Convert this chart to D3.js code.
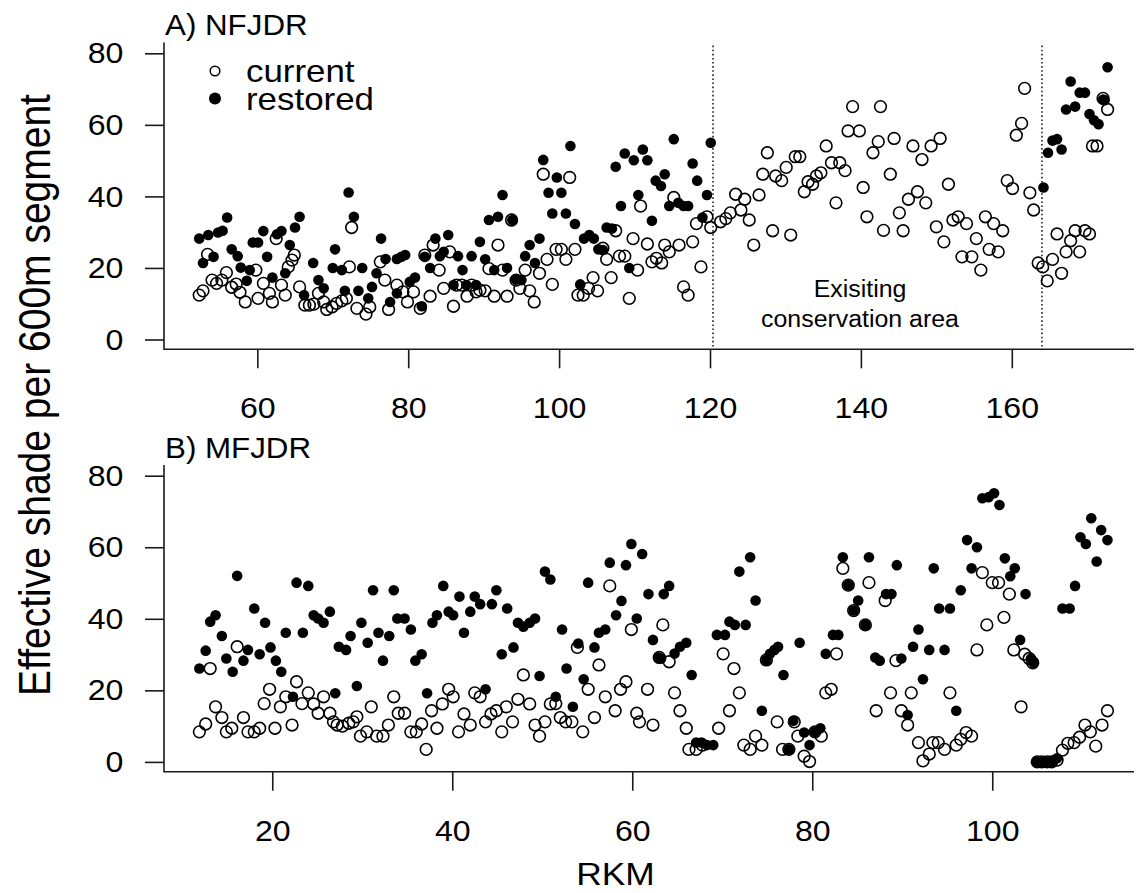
<!DOCTYPE html>
<html>
<head>
<meta charset="utf-8">
<script src="https://cdn.jsdelivr.net/npm/d3@7"></script>
<style>
  html, body { margin: 0; padding: 0; background: #fff; }
  svg { display: block; }
  text { font-family: "Liberation Sans", Arial, Helvetica, sans-serif; fill: #000; }
</style>
</head>
<body>
<svg id="chart" width="1136" height="893"></svg>
<script>
// ---------------- DATA ----------------
const panelTitles = ["A) NFJDR", "B) MFJDR"];
const legendLabels = ["current", "restored"];
const yTicks = [0, 20, 40, 60, 80];
const nfXTicks = [60, 80, 100, 120, 140, 160];
const mfXTicks = [20, 40, 60, 80, 100];
const conservationBounds = [120.4, 164.0];
const conservationLabel = ["Exisiting", "conservation area"];
const xTitle = "RKM";
const yTitle = "Effective shade per 600m segment";

// NFJDR current [RKM, shade]
const nfCurrent = [
[52.3,12.4],[52.8,13.6],[53.4,23.8],[54.0,16.6],[54.6,15.7],[55.3,16.6],[55.9,18.7],[56.6,14.6],[57.2,15.5],[57.7,13.2],
[58.4,10.5],[59.8,19.4],[60.1,11.5],[60.8,15.7],[61.6,12.9],[62.0,10.5],[62.5,28.2],[63.2,15.2],[63.7,12.4],[64.1,20.3],
[64.6,22.2],[64.9,23.6],[65.6,14.7],[66.3,9.6],[66.9,9.6],[67.5,9.9],[68.1,12.9],[68.8,10.5],[69.2,8.4],[69.9,9.1],
[70.5,10.1],[71.2,10.8],[71.8,11.5],[72.2,20.3],[72.5,31.3],[73.2,8.7],[74.4,7.1],[74.9,9.1],[76.3,21.7],[76.9,16.6],
[77.4,8.4],[78.5,15.2],[79.3,13.3],[79.9,10.5],[80.7,13.3],[81.6,8.7],[82.2,23.6],[82.9,12.1],[83.3,26.4],[84.1,19.4],
[84.7,14.3],[85.5,24.5],[86.0,9.3],[86.4,15.2],[87.1,15.2],[87.8,12.1],[88.4,15.2],[89.0,13.3],[89.5,13.8],[90.2,13.6],
[90.7,19.8],[91.4,12.1],[91.9,26.4],[92.5,19.4],[93.1,12.1],[93.7,33.4],[94.3,16.6],[94.8,14.3],[95.5,19.4],[96.1,13.6],
[96.7,10.5],[97.4,18.5],[97.9,46.2],[98.4,22.4],[99.1,15.4],[99.6,25.2],[100.3,25.2],[100.9,22.4],[101.4,45.3],[102.1,25.2],
[102.5,12.4],[103.2,12.4],[103.9,14.3],[104.5,17.3],[105.1,13.6],[105.8,25.5],[106.3,22.4],[106.9,17.3],[107.5,30.4],[108.0,23.3],
[108.7,23.3],[109.3,11.5],[109.8,28.2],[110.4,19.4],[110.8,37.3],[111.7,26.7],[112.3,21.7],[112.9,22.7],[113.6,21.4],[114.0,26.4],
[114.6,24.5],[115.2,39.7],[115.9,26.4],[116.5,14.7],[117.1,12.4],[117.7,27.3],[118.2,32.4],[118.8,20.3],[119.6,34.3],[120.1,31.3],
[121.4,32.9],[122.1,33.8],[122.7,35.4],[123.4,40.6],[124.1,36.2],[124.6,39.2],[125.2,33.4],[125.8,26.4],[126.5,40.4],[127.0,46.2],
[127.6,52.2],[128.3,30.4],[128.7,45.7],[129.5,44.4],[130.1,48.1],[130.7,29.2],[131.3,51.1],[131.9,51.1],[132.5,41.3],[133.0,44.1],
[133.6,43.4],[134.1,45.7],[134.7,46.6],[135.4,54.1],[136.1,49.4],[136.7,38.2],[137.2,49.4],[137.9,47.2],[138.3,58.3],[138.9,65.1],
[139.8,58.3],[140.3,42.5],[140.8,34.3],[141.6,52.2],[142.3,55.3],[142.6,65.1],[143.0,30.5],[143.9,46.2],[144.4,56.2],[145.1,35.4],
[145.6,30.4],[146.3,39.2],[146.9,54.1],[147.5,41.3],[148.1,50.3],[148.6,38.2],[149.3,54.1],[150.0,31.5],[150.5,56.2],[151.0,27.3],
[151.6,43.4],[152.2,33.4],[152.9,34.3],[153.4,23.1],[154.0,32.4],[154.7,23.1],[155.3,28.2],[155.9,19.4],[156.5,34.3],[157.0,25.2],
[157.6,32.4],[158.2,24.5],[158.8,30.4],[159.4,44.4],[160.1,42.2],[160.6,57.1],[161.3,60.4],[161.7,70.2],[162.4,41.0],[162.9,36.2],
[163.5,21.4],[164.1,20.3],[164.7,16.4],[165.4,22.4],[166.0,29.5],[166.6,18.5],[167.2,24.5],[167.8,27.6],[168.4,30.4],[169.0,24.5],
[169.7,30.4],[170.3,29.5],[170.7,54.1],[171.3,54.1],[172.1,67.4],[172.7,64.3]
];

// NFJDR restored [RKM, shade]
const nfRestored = [
[52.3,28.2],[52.8,21.4],[53.5,29.2],[54.2,23.1],[54.8,29.9],[55.4,30.4],[56.0,34.1],[56.6,25.2],[57.4,23.3],[57.8,20.1],
[58.6,16.4],[59.0,19.4],[59.4,27.1],[60.1,27.1],[60.8,30.3],[61.3,23.1],[62.0,17.3],[62.6,29.4],[63.2,30.3],[63.7,18.5],
[64.3,26.4],[65.0,31.3],[65.6,34.3],[66.2,12.4],[67.4,21.4],[68.1,16.6],[68.8,14.3],[70.0,20.0],[70.3,25.2],[71.2,19.4],
[71.6,13.6],[72.1,41.1],[72.8,34.3],[73.4,13.6],[73.9,20.0],[74.7,11.5],[75.2,14.7],[75.8,18.5],[76.4,28.2],[77.0,22.5],
[77.6,10.5],[78.5,22.5],[78.5,12.9],[79.1,23.1],[79.6,23.6],[80.2,16.1],[80.9,17.3],[81.8,9.3],[82.2,23.1],[82.9,20.0],
[83.6,28.2],[84.2,23.3],[84.7,24.5],[85.3,29.2],[86.0,15.2],[86.6,23.3],[87.2,19.4],[87.7,15.2],[88.4,23.3],[89.0,15.2],
[89.5,27.3],[90.2,22.4],[90.7,33.4],[91.4,19.4],[91.9,34.3],[92.5,40.4],[93.1,20.0],[93.8,33.4],[94.3,16.8],[95.0,16.6],
[95.5,23.3],[96.1,26.4],[96.8,21.4],[97.4,28.2],[97.9,50.2],[98.6,41.0],[99.1,35.2],[99.7,45.3],[100.3,41.0],[100.9,35.2],
[101.5,54.1],[102.1,32.3],[102.8,15.4],[103.3,28.2],[104.0,29.2],[104.6,28.2],[105.2,25.2],[105.8,25.0],[106.3,31.3],[107.0,31.0],
[107.5,48.3],[108.2,37.3],[108.7,52.0],[109.3,20.0],[109.9,50.1],[110.5,40.4],[111.1,53.1],[111.7,50.1],[112.3,33.2],[112.8,44.4],
[113.5,42.9],[114.0,46.2],[114.6,37.3],[115.2,56.0],[115.8,38.2],[116.5,37.3],[117.1,37.3],[117.7,49.2],[118.3,44.4],[119.0,34.1],
[119.6,40.4],[120.1,55.0],
[164.2,42.5],[164.8,52.2],[165.4,55.6],[166.0,56.0],[166.6,53.1],[167.2,64.3],[167.8,72.1],[168.4,65.1],[169.0,69.0],[169.7,69.0],
[170.3,63.0],[170.9,61.3],[171.5,60.2],[172.1,67.1],[172.3,66.9],[172.7,76.1]
];

// MFJDR current [RKM, shade]
const mfCurrent = [
[11.9,8.4],[12.6,10.6],[13.1,26.1],[13.7,15.4],[14.4,12.4],[14.9,8.4],[15.5,9.4],[16.1,32.2],[16.8,12.4],[17.3,8.4],
[18.0,8.4],[18.6,9.4],[19.1,16.3],[19.7,20.3],[20.3,9.4],[20.9,15.4],[21.5,18.2],[22.2,10.3],[22.7,22.4],[23.3,16.3],
[24.0,19.3],[24.6,16.2],[25.1,13.6],[25.7,18.2],[26.4,13.6],[26.8,11.2],[27.2,10.3],[27.8,10.0],[28.5,10.8],[29.0,11.2],
[29.4,12.6],[29.8,7.2],[30.5,8.4],[31.0,15.4],[31.6,7.2],[32.3,7.2],[32.9,10.3],[33.5,18.2],[34.0,13.6],[34.7,13.6],
[35.4,8.4],[36.0,8.4],[36.6,10.6],[37.1,3.5],[37.7,14.3],[38.3,9.4],[38.9,16.2],[39.6,20.3],[40.1,18.2],[40.7,8.4],
[41.3,13.4],[42.0,10.3],[42.5,19.3],[43.1,18.2],[43.7,11.2],[44.3,13.4],[44.9,14.3],[45.5,8.4],[46.0,15.4],[46.7,11.2],
[47.3,17.5],[47.9,24.3],[48.6,16.2],[49.2,10.3],[49.7,7.2],[50.3,11.2],[50.9,16.2],[51.5,16.3],[52.0,12.4],[52.6,11.2],
[53.3,11.2],[53.9,32.0],[54.5,8.4],[55.1,20.3],[55.8,12.4],[56.3,27.1],[57.0,18.2],[57.5,49.2],[58.1,14.3],[58.7,20.3],
[59.3,22.4],[59.9,37.0],[60.5,13.6],[60.8,11.2],[61.7,20.3],[62.3,10.3],[63.0,29.2],[63.4,38.3],[64.1,28.0],[64.7,19.3],
[65.3,14.3],[66.0,9.4],[66.3,3.5],[67.1,3.5],[67.8,4.7],[69.6,9.4],[70.1,30.2],[70.8,14.3],[71.3,26.1],[71.9,19.3],
[72.4,4.7],[73.1,3.5],[73.7,7.2],[74.4,4.7],[74.9,28.5],[76.1,11.2],[76.7,3.5],[77.4,3.5],[78.0,11.2],[78.4,7.2],
[79.1,1.6],[79.7,0.1],[80.3,8.4],[81.0,7.2],[81.5,19.3],[82.1,20.3],[82.7,30.2],[83.4,54.1],[84.0,49.4],[84.6,42.3],
[85.9,38.3],[86.3,50.1],[87.1,14.3],[88.1,45.1],[88.7,19.3],[89.3,28.3],[89.9,14.3],[90.6,10.3],[91.0,19.3],[91.8,5.4],
[92.3,0.3],[93.0,2.2],[93.4,5.4],[94.0,5.4],[94.7,3.5],[95.3,19.3],[96.0,4.7],[96.5,6.3],[97.1,8.2],[97.7,7.2],
[98.3,31.3],[98.9,52.9],[99.4,38.3],[100.0,50.1],[100.7,50.1],[101.3,40.4],[101.9,46.9],[102.4,31.3],[103.2,15.4],[103.6,30.1],
[104.1,28.9],[104.5,27.7],[105.0,0],[105.5,0],[106.1,0],[106.6,0],[107.2,0.5],[107.8,3.3],[108.4,5.2],[109.1,5.4],
[109.7,6.9],[110.3,10.3],[110.9,8.4],[111.5,4.4],[112.2,10.3],[112.8,14.3]
];

// MFJDR restored [RKM, shade]
const mfRestored = [
[11.9,26.1],[12.6,31.1],[13.1,39.2],[13.7,41.0],[14.4,35.2],[14.9,28.9],[15.6,25.2],[16.1,52.0],[16.8,28.3],[17.3,31.3],
[18.0,42.9],[18.6,30.1],[19.2,38.9],[19.8,32.0],[20.4,28.3],[21.0,25.2],[21.5,36.1],[22.3,18.2],[22.7,50.1],[23.4,36.1],
[24.0,49.2],[24.6,41.0],[25.1,40.1],[25.7,38.9],[26.4,42.0],[27.0,19.2],[27.4,32.2],[28.2,31.3],[28.7,35.2],[29.4,21.2],
[29.9,38.9],[30.6,33.3],[31.2,48.0],[31.8,36.1],[32.3,28.3],[33.0,35.2],[33.5,48.0],[33.9,40.1],[34.7,40.1],[35.4,37.0],
[35.9,28.3],[36.6,30.1],[37.2,19.2],[37.8,38.9],[38.3,41.0],[39.0,49.2],[39.6,42.0],[40.1,41.0],[40.8,46.2],[41.3,36.1],
[42.0,42.0],[42.5,46.2],[43.1,44.1],[43.7,20.3],[44.4,44.1],[44.9,48.0],[45.5,30.1],[46.1,42.9],[46.8,32.0],[47.3,38.9],
[47.9,37.8],[48.6,38.9],[49.2,40.1],[49.7,24.0],[50.3,53.2],[50.9,51.0],[51.5,18.2],[52.2,37.0],[52.7,26.1],[53.4,15.4],
[54.0,33.1],[54.6,23.1],[55.1,50.1],[55.8,32.0],[56.3,36.1],[57.0,37.0],[57.5,55.7],[58.2,41.0],[58.8,45.0],[59.3,55.0],
[59.9,60.9],[60.5,40.1],[61.1,58.1],[61.8,46.9],[62.3,34.1],[62.9,29.2],[63.2,28.9],[63.5,46.9],[64.1,49.2],[64.7,30.3],
[65.3,32.2],[66.0,33.3],[66.6,24.3],[67.1,5.4],[67.7,5.4],[68.3,4.7],[69.0,4.7],[69.4,35.5],[70.3,35.5],[70.8,39.2],
[71.4,38.3],[71.9,53.2],[72.6,38.3],[73.1,57.2],[73.7,45.1],[74.4,14.3],[74.9,28.5],[75.3,30.2],[75.8,31.3],[76.2,32.2],
[76.8,24.3],[77.4,3.5],[77.9,11.5],[78.6,33.3],[79.1,8.2],[79.7,4.7],[80.3,8.4],[80.9,9.4],[81.5,30.2],[82.3,35.5],
[82.9,35.5],[83.4,57.2],[84.0,49.4],[84.6,42.3],[85.1,45.1],[85.9,38.3],[86.3,57.2],[87.0,29.2],[87.5,28.3],[88.2,46.9],
[88.8,46.9],[89.4,55.0],[89.9,28.9],[90.6,13.1],[91.2,32.2],[91.8,37.0],[92.3,23.1],[93.0,31.3],[93.5,54.1],[94.1,42.9],
[94.7,31.3],[95.3,42.9],[96.0,14.3],[96.5,48.0],[97.2,62.0],[97.7,54.1],[98.3,60.0],[98.9,73.7],[99.6,74.0],[100.2,75.1],
[100.8,71.8],[101.4,56.9],[102.0,51.9],[102.5,54.1],[103.1,34.1],[103.7,46.9],[104.3,28.9],[104.6,27.7],[104.9,0],[105.5,0],
[106.0,0],[106.6,0],[107.2,1.0],[107.8,42.9],[108.6,42.9],[109.2,49.2],[109.8,62.8],[110.4,60.9],[111.0,68.1],[111.6,56.0],
[112.1,64.8],[112.8,62.0]
];

// ---------------- LAYOUT ----------------
const svg = d3.select("#chart");
const FONT = '"Liberation Sans", Arial, Helvetica, sans-serif';
const AX = "#1a1a1a";
const plotLeft = 164, plotRight = 1134;

const panels = [
  { title: panelTitles[0], current: nfCurrent, restored: nfRestored,
    xDomain: [47.63, 176.2], xTicks: nfXTicks, dy: 0, bounds: conservationBounds, label: true },
  { title: panelTitles[1], current: mfCurrent, restored: mfRestored,
    xDomain: [7.97, 115.75], xTicks: mfXTicks, dy: 422.4, bounds: null, label: false }
];

function sText(parent, x, y, str, size, sx, anchor) {
  const g = parent.append("g").attr("transform", `translate(${x},${y}) scale(${sx},1)`);
  g.append("text").attr("x", 0).attr("y", 0)
    .attr("font-size", size).attr("text-anchor", anchor || "start").text(str);
  return g;
}

panels.forEach(p => {
  const top = 42.6 + p.dy, bottom = 349.3 + p.dy;
  const x = d3.scaleLinear().domain(p.xDomain).range([plotLeft, plotRight]);
  const y = d3.scaleLinear().domain([0, 80]).range([339.5 + p.dy, 53.3 + p.dy]);
  const g = svg.append("g");

  // dotted boundaries
  if (p.bounds) {
    g.selectAll("line.bound").data(p.bounds).enter().append("line")
      .attr("x1", d => x(d)).attr("x2", d => x(d))
      .attr("y1", top + 3).attr("y2", bottom)
      .attr("stroke", "#222").attr("stroke-width", 1.6)
      .attr("stroke-dasharray", "1.6,2.5");
  }

  // L box
  g.append("path")
    .attr("d", `M${plotLeft},${top}V${bottom}H${plotRight}`)
    .attr("fill", "none").attr("stroke", AX).attr("stroke-width", 1.6);

  // y axis
  const ya = g.append("g").attr("transform", `translate(${plotLeft},0)`)
    .call(d3.axisLeft(y).tickValues(yTicks).tickSize(19).tickPadding(19).tickSizeOuter(0));
  ya.select(".domain").remove();
  ya.selectAll(".tick line").attr("stroke", AX).attr("stroke-width", 1.6);
  ya.selectAll(".tick text").attr("font-size", 30).attr("font-family", FONT).attr("fill", "#000")
    .attr("transform", "scale(1.07,1)");

  // x axis
  const xa = g.append("g").attr("transform", `translate(0,${bottom})`)
    .call(d3.axisBottom(x).tickValues(p.xTicks).tickSize(19).tickPadding(28.7).tickSizeOuter(0));
  xa.select(".domain").remove();
  xa.selectAll(".tick line").attr("stroke", AX).attr("stroke-width", 1.6);
  xa.selectAll(".tick text").attr("font-size", 30).attr("font-family", FONT).attr("fill", "#000")
    .attr("transform", "scale(1.07,1)");

  // title
  sText(g, 165, 35.3 + p.dy, p.title, 29, 1.08, "start");

  // conservation label (two lines in one text element)
  if (p.label) {
    const lg = g.append("g").attr("transform", "translate(860,297) scale(1.06,1)");
    lg.append("text").attr("font-size", 23.5).attr("text-anchor", "middle")
      .selectAll("tspan").data(conservationLabel).enter().append("tspan")
      .attr("x", 0).attr("y", (d, i) => i * 30).text(d => d);
  }

  // points
  g.append("g").selectAll("circle").data(p.restored).enter().append("circle")
    .attr("cx", d => x(d[0])).attr("cy", d => y(d[1])).attr("r", 5.3)
    .attr("fill", "#000");
  g.append("g").selectAll("circle").data(p.current).enter().append("circle")
    .attr("cx", d => x(d[0])).attr("cy", d => y(d[1])).attr("r", 5.85)
    .attr("fill", "none").attr("stroke", "#000").attr("stroke-width", 1.6);
});

// legend
const leg = svg.append("g");
leg.selectAll("circle").data(legendLabels).enter().append("circle")
  .attr("cx", 215).attr("cy", (d, i) => 71 + i * 27.5)
  .attr("r", (d, i) => i === 0 ? 4.8 : 6)
  .attr("fill", (d, i) => i === 0 ? "none" : "#000")
  .attr("stroke", (d, i) => i === 0 ? "#000" : "none")
  .attr("stroke-width", 1.5);
leg.append("g").attr("transform", "translate(246,82.3) scale(1.09,1)")
  .append("text").attr("font-size", 32)
  .selectAll("tspan").data(legendLabels).enter().append("tspan")
  .attr("x", 0).attr("y", (d, i) => i * 27.7).text(d => d);

// axis titles
sText(svg, 615.5, 885, xTitle, 31, 1.14, "middle");
svg.append("g").attr("transform", "translate(49.5,395) scale(1.13,1) rotate(-90)")
  .append("text").attr("font-size", 39).attr("text-anchor", "middle").text(yTitle);
</script>
</body>
</html>
